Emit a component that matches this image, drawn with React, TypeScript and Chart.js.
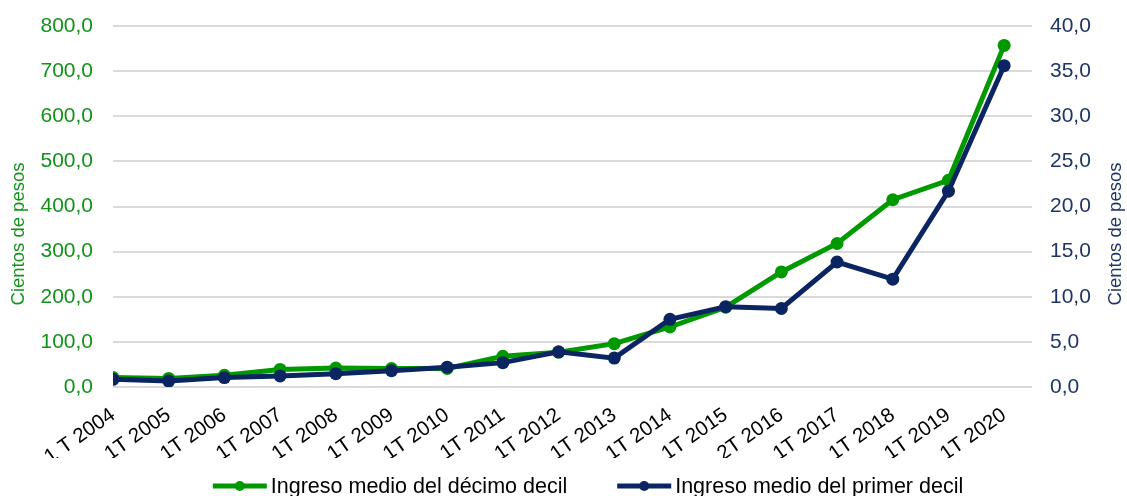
import React, { useEffect, useRef } from 'react';
import { Chart, registerables } from 'chart.js';

Chart.register(...registerables);

// ---- Data ----
const categories = [
  '1 T 2004', '1T 2005', '1T 2006', '1T 2007', '1T 2008', '1T 2009', '1T 2010',
  '1T 2011', '1T 2012', '1T 2013', '1T 2014', '1T 2015', '2T 2016', '1T 2017',
  '1T 2018', '1T 2019', '1T 2020',
];
const decimoDecil = [21, 19, 26, 39, 42, 41, 41, 68, 77, 96, 133, 177, 255, 318, 415, 458, 757];
const primerDecil = [0.85, 0.66, 1.04, 1.22, 1.48, 1.8, 2.2, 2.7, 3.9, 3.2, 7.5, 8.9, 8.7, 13.85, 11.95, 21.7, 35.6];
const seriesNames = ['Ingreso medio del décimo decil', 'Ingreso medio del primer decil'];
const axisTitle = 'Cientos de pesos';
const leftMax = 800;
const leftStep = 100;
const rightMax = 40;
const rightStep = 5;

const GREEN = '#009a00';
const GREEN_TEXT = '#12921a';
const NAVY = '#0b2462';
const NAVY_TEXT = '#1f3566';
const GRID = '#d9d9d9';
const FONT = "'Liberation Sans', Arial, sans-serif";

const fmt = (v: number) => v.toFixed(1).replace('.', ',');

const titlesAndLegend = {
  id: 'titlesAndLegend',
  afterDraw(chart: any) {
    const ctx = chart.ctx as CanvasRenderingContext2D;
    ctx.save();
    // axis titles
    ctx.font = `18.5px ${FONT}`;
    ctx.textAlign = 'center';
    ctx.textBaseline = 'middle';
    const cy = 234;
    ctx.save();
    ctx.translate(19, cy);
    ctx.rotate(-Math.PI / 2);
    ctx.fillStyle = GREEN_TEXT;
    ctx.fillText(axisTitle, 0, 0);
    ctx.restore();
    ctx.save();
    ctx.translate(1116, cy);
    ctx.rotate(-Math.PI / 2);
    ctx.fillStyle = NAVY_TEXT;
    ctx.fillText(axisTitle, 0, 0);
    ctx.restore();

    // legend
    ctx.font = `21.5px ${FONT}`;
    ctx.textAlign = 'left';
    const lineLen = 54;
    const gap = 4;
    const itemGap = 50;
    const colors = [GREEN, NAVY];
    const widths = seriesNames.map((n) => lineLen + gap + ctx.measureText(n).width);
    const total = widths[0] + widths[1] + itemGap;
    let x = 588 - total / 2;
    const y = 486;
    seriesNames.forEach((name, i) => {
      ctx.strokeStyle = colors[i];
      ctx.lineWidth = 5;
      ctx.beginPath();
      ctx.moveTo(x, y);
      ctx.lineTo(x + lineLen, y);
      ctx.stroke();
      ctx.fillStyle = colors[i];
      ctx.beginPath();
      ctx.arc(x + lineLen / 2, y, 5, 0, Math.PI * 2);
      ctx.fill();
      ctx.fillStyle = '#000000';
      ctx.fillText(name, x + lineLen + gap, y + 1);
      x += widths[i] + itemGap;
    });
    ctx.restore();
  },
};

export default function App() {
  const canvasRef = useRef<HTMLCanvasElement | null>(null);

  useEffect(() => {
    if (!canvasRef.current) return;
    const chart = new Chart(canvasRef.current, {
      type: 'line',
      data: {
        datasets: [
          {
            label: seriesNames[1],
            data: primerDecil.map((v, i) => ({ x: i, y: v })),
            yAxisID: 'y2',
            borderColor: NAVY,
            backgroundColor: NAVY,
            borderWidth: 5,
            pointRadius: 6.5,
            pointBorderWidth: 0,
            order: 0,
          },
          {
            label: seriesNames[0],
            data: decimoDecil.map((v, i) => ({ x: i, y: v })),
            yAxisID: 'y',
            borderColor: GREEN,
            backgroundColor: GREEN,
            borderWidth: 5,
            pointRadius: 6.5,
            pointBorderWidth: 0,
            order: 1,
          },
        ],
      },
      options: {
        animation: false,
        responsive: false,
        layout: { padding: { top: 26, bottom: 38, left: 0, right: 0 } },
        plugins: {
          legend: { display: false },
          tooltip: { enabled: false },
        },
        scales: {
          x: {
            type: 'linear',
            min: 0,
            max: 16.5,
            grid: { display: false },
            border: { display: false },
            ticks: {
              stepSize: 1,
              includeBounds: false,
              autoSkip: false,
              minRotation: 35,
              maxRotation: 35,
              padding: 8,
              color: '#000000',
              font: { family: FONT, size: 20.5 },
              callback: (v: any) => (Number.isInteger(v) && categories[v] !== undefined ? categories[v] : ''),
            },
            afterFit: (s: any) => {
              s.height = 496 - 38 - 387;
              s.paddingTop = 0;
              s.paddingBottom = 0;
              s.paddingLeft = 0;
              s.paddingRight = 0;
            },
          },
          y: {
            position: 'left',
            min: 0,
            max: leftMax,
            grid: { color: GRID, lineWidth: 2, drawTicks: false },
            border: { display: false },
            ticks: {
              stepSize: leftStep,
              padding: 20,
              color: GREEN_TEXT,
              font: { family: FONT, size: 21 },
              callback: (v: any) => fmt(Number(v)),
            },
            afterFit: (s: any) => {
              s.width = 113;
              s.paddingTop = 0;
              s.paddingBottom = 0;
            },
          },
          y2: {
            position: 'right',
            min: 0,
            max: rightMax,
            grid: { display: false, drawTicks: false },
            border: { display: false },
            ticks: {
              stepSize: rightStep,
              padding: 18,
              color: NAVY_TEXT,
              font: { family: FONT, size: 21 },
              callback: (v: any) => fmt(Number(v)),
            },
            afterFit: (s: any) => {
              s.width = 95;
              s.paddingTop = 0;
              s.paddingBottom = 0;
            },
          },
        },
      },
      plugins: [titlesAndLegend],
    } as any);
    return () => chart.destroy();
  }, []);

  return (
    <div style={{ position: 'absolute', left: 0, top: 0, width: 1127, height: 496, background: '#ffffff' }}>
      <canvas ref={canvasRef} width={1127} height={496} style={{ display: 'block' }} />
    </div>
  );
}
